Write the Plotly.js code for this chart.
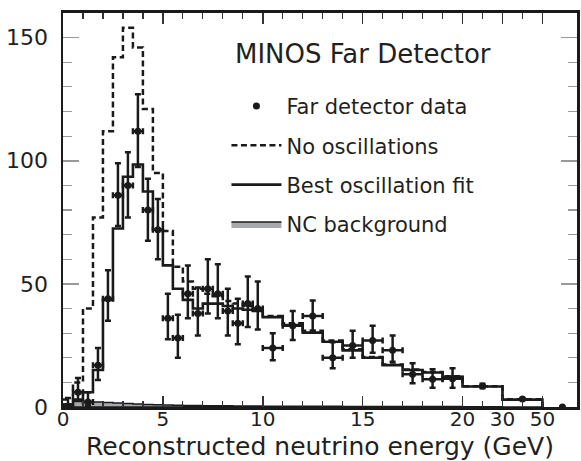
<!DOCTYPE html>
<html><head><meta charset="utf-8">
<script src="https://cdn.plot.ly/plotly-3.0.1.min.js"></script>
<style>html,body{margin:0;padding:0;background:#fff}#chart{width:581px;height:461px}</style>
</head><body><div id="chart"></div>
<script>
// Bin edges in GeV (0.5 GeV bins to 10, 1 GeV bins to 20, then 20-30 and 30-50)
const binEdges = [0,0.5,1,1.5,2,2.5,3,3.5,4,4.5,5,5.5,6,6.5,7,7.5,8,8.5,9,9.5,10,11,12,13,14,15,16,17,18,19,20,30,50];

// Predicted spectra (events / GeV), one value per bin
const noOscillations = [3,10,40,77,112,142,154,146,121,95,71.5,57,51,48,46,45,43,42,41,40,37,34,31,27,23.5,20.3,17.3,15.2,14.2,12.5,8.4,3.1];
const bestFit        = [1,3,6,15,43.5,72.5,93.5,98.5,87.5,72,57.5,48,43.5,40,42,42,41,40,39.5,39,36.5,33.3,30.2,26.5,23,20,17,15,14,12.3,8.3,3];
const ncBackground   = [1.2,2.2,2.2,2.0,1.8,1.6,1.4,1.2,1.0,0.9,0.8,0.7,0.6,0.6,0.5,0.5,0.5,0.4,0.4,0.4,0.3,0.3,0.3,0.3,0.2,0.2,0.2,0.2,0.2,0.2,0.1,0.05];

// Far detector data (events / GeV)
const dataEnergy    = [0.25,0.75,1.25,1.75,2.25,2.75,3.25,3.75,4.25,4.75,5.25,5.75,6.25,6.75,7.25,7.75,8.25,8.75,9.25,9.75,10.5,11.5,12.5,13.5,14.5,15.5,16.5,17.5,18.5,19.5,25,40,60];
const dataEnergyErr = [0.25,0.25,0.25,0.25,0.25,0.25,0.25,0.25,0.25,0.25,0.25,0.25,0.25,0.25,0.25,0.25,0.25,0.25,0.25,0.25,0.5,0.5,0.5,0.5,0.5,0.5,0.5,0.5,0.5,0.5,0,0,0];
const dataValues    = [0,6,2,17,44,86,90,112,80,72,36,28,46,38,48,46,39,34,42,40,24,33,37,20,25,27,23,13.3,11.3,11.5,8.5,3.2,0];
const dataErrUp     = [3.7,5.8,4,7,11.5,13,13.5,15,12.7,12.5,10,9.5,11.5,10.5,12,12,9,10,11,11,6,6,6.2,6.3,6,6,6,4.5,4,4.2,0.9,0.4,0];
const dataErrDown   = [0,3.3,1.6,6,9,12.5,13,14.5,12.5,12,8.5,8,10,9,10,10,10,8.5,9.5,8.5,5,5.8,6,4.3,5,5,4.6,3.7,3.5,3.7,0.9,0.4,0];

// Axis ticks
const tickEnergies = [0,5,10,15,20,30,50];
const tickLabels   = ['0','5','10','15','20','30','50'];
const minorTickEnergies = [1,2,3,4,6,7,8,9,11,12,13,14,16,17,18,19,25,40];

// Compressed energy scale above 20 GeV (20-30 and 30-50 each take 2 axis units)
function toAxis(E){
  if (E <= 20) return E;
  if (E <= 30) return 20 + (E-20)/5;
  return 22 + (E-30)/10;
}
const edgesAxis = binEdges.map(toAxis);
function stepY(vals){ return vals.concat([0]); }

const ink = '#1a1a1a';
const traces = [
  {name:'NC background', x:edgesAxis.concat([0]), y:ncBackground.concat([0,0]), type:'scatter', mode:'lines',
   line:{shape:'hv', color:ink, width:1.5}, fill:'toself', fillcolor:'#a7a9ac',
   legendgroup:'d', legendrank:4},
  {name:'No oscillations', x:edgesAxis, y:stepY(noOscillations), type:'scatter', mode:'lines',
   line:{shape:'hv', color:ink, width:2.5, dash:'6px,3.5px'}, legendgroup:'b', legendrank:2},
  {name:'Best oscillation fit', x:edgesAxis, y:stepY(bestFit), type:'scatter', mode:'lines',
   line:{shape:'hv', color:ink, width:2.6}, legendgroup:'c', legendrank:3},
  {name:'Far detector data', x:dataEnergy.map(toAxis), y:dataValues, type:'scatter', mode:'markers',
   marker:{color:ink, size:7},
   error_y:{type:'data', symmetric:false, array:dataErrUp, arrayminus:dataErrDown, color:ink, thickness:2.5, width:3},
   error_x:{type:'data', array:dataEnergyErr, color:ink, thickness:2.5, width:3},
   legendgroup:'a', legendrank:1}
];

const layout = {
  width:581, height:461,
  margin:{l:63, r:4, t:13, b:54},
  paper_bgcolor:'#fff', plot_bgcolor:'#fff',
  font:{family:'DejaVu Sans', color:'#231f20', size:21},
  showlegend:true,
  xaxis:{
    range:[0,25.73], tickmode:'array', tickvals:tickEnergies.map(toAxis), ticktext:tickLabels,
    ticks:'inside', ticklen:11, tickwidth:1.5, tickcolor:'#333',
    showline:true, linewidth:3, linecolor:ink, mirror:'ticks',
    showgrid:false, zeroline:false, tickfont:{size:20}, ticklabelstandoff:-8,
    minor:{tickmode:'array', tickvals:minorTickEnergies.map(toAxis), ticks:'inside', ticklen:6, tickwidth:1.2, tickcolor:'#333', showgrid:false},
    title:{text:'Reconstructed neutrino energy (GeV)', font:{size:25}, standoff:19}
  },
  yaxis:{
    range:[0,160], tickmode:'array', tickvals:[0,50,100,150],
    ticks:'inside', ticklen:16, tickwidth:1.5, tickcolor:'#999',
    showline:true, linewidth:2.5, linecolor:ink, mirror:'ticks',
    showgrid:false, zeroline:false, tickfont:{size:22}, ticklabelstandoff:8,
    minor:{dtick:10, ticks:'inside', ticklen:9, tickwidth:1.2, tickcolor:'#999', showgrid:false}
  },
  legend:{x:0.318, y:0.815, xanchor:'left', yanchor:'top', bgcolor:'rgba(0,0,0,0)',
    font:{size:21}, tracegroupgap:9, itemwidth:50, traceorder:'grouped'},
  annotations:[{text:'MINOS Far Detector', xref:'paper', yref:'paper', x:0.5836, y:0.896,
    xanchor:'center', yanchor:'middle', showarrow:false, font:{size:26}}]
};

Plotly.newPlot('chart', traces, layout, {displayModeBar:false, staticPlot:true});
</script></body></html>
